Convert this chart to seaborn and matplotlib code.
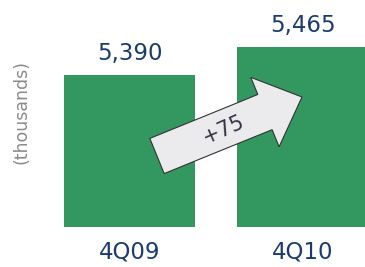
import numpy as np
import pandas as pd
import matplotlib
matplotlib.use("Agg")
import matplotlib.pyplot as plt
import seaborn as sns
from matplotlib.patches import FancyArrow

quarters = ["4Q09", "4Q10"]
subscribers = [5390, 5465]
value_labels = ["5,390", "5,465"]
change_label = "+75"

green = "#32985f"
navy = "#1b3c6e"

sns.set_theme(style="white")
plt.rcParams['font.family'] = ['DejaVu Sans']

df = pd.DataFrame({"quarter": quarters, "value": subscribers})

fig = plt.figure(figsize=(3.65, 2.67), dpi=100)
ax = fig.add_axes([0, 40 / 267, 1, 227 / 267])
sns.barplot(data=df, x="quarter", y="value", color=green, saturation=1,
            width=0.757, ax=ax)
for p in ax.patches:
    p.set_edgecolor("none")

# truncated axis: 28 px per 75 units
base = 4982.9
ax.set_ylim(base, base + 227 / (28 / 75))
ax.set_xlim(-129.5 / 173, (365 - 129.5) / 173)
sns.despine(ax=ax, left=True, bottom=True)
ax.set_yticks([])
ax.set_xlabel("")
ax.set_ylabel("")
ax.tick_params(axis="x", length=0, pad=10, labelsize=16.5, labelcolor=navy)

for i, (v, lab) in enumerate(zip(subscribers, value_labels)):
    ax.annotate(lab, (i, v), xytext=(0, 7), textcoords="offset points",
                ha="center", va="bottom", fontsize=16.5, color=navy, clip_on=False)

# overlay in pixel coordinates for arrow and y label
ov = fig.add_axes([0, 0, 1, 1])
ov.set_xlim(0, 365)
ov.set_ylim(267, 0)
ov.axis("off")

ov.text(22, 112, "(thousands)", rotation=90, ha="center", va="center",
        fontsize=12.5, color="#8a8a8a")

tail = np.array([157, 156])
tip = np.array([302, 97])
d = tip - tail
arrow = FancyArrow(tail[0], tail[1], d[0], d[1], width=38, head_width=75,
                   head_length=40, length_includes_head=True,
                   facecolor="#ebebee", edgecolor="#333333", linewidth=0.8)
ov.add_patch(arrow)
ov.text(223, 130, change_label, rotation=24, ha="center", va="center",
        fontsize=15, color="#333344", rotation_mode="anchor")

fig.savefig("out.png", dpi=100)
